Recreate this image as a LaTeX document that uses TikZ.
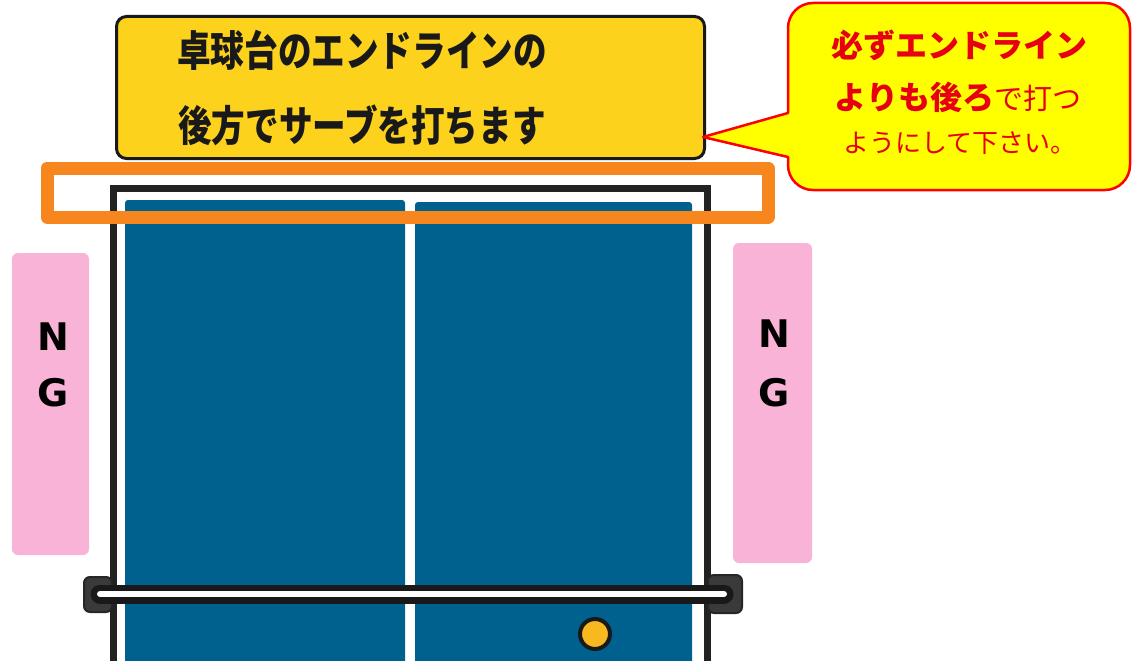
\documentclass[tikz,border=0pt]{standalone}
\usepackage{fontspec}
\newfontfamily\jpfont{Noto Sans CJK JP}
\newfontfamily\ngfont{DejaVu Sans}
\definecolor{tableblue}{HTML}{00608E}
\definecolor{tableline}{HTML}{222222}
\definecolor{zoneorange}{HTML}{F7861E}
\definecolor{titlegold}{HTML}{FCD21D}
\definecolor{ngpink}{HTML}{F9B3D6}
\definecolor{noteyellow}{HTML}{FFFF00}
\definecolor{notered}{HTML}{E60012}
\definecolor{ballyellow}{HTML}{F8B81F}
\definecolor{capgray}{HTML}{3A3A3A}
\tikzset{
  ngbox/.style={fill=ngpink, rounded corners=6pt},
  ngletter/.style={font=\ngfont\bfseries\fontsize{38}{40}\selectfont, text=black, inner sep=0pt},
  half/.style={fill=tableblue, rounded corners=3pt},
  titletext/.style={font=\jpfont\bfseries\fontsize{42}{46}\selectfont, xscale=0.8, text=black!90, inner sep=0pt},
  notetext/.style={font=\jpfont\fontsize{32}{36}\selectfont, text=notered, inner sep=0pt},
  netcap/.style={fill=capgray, draw=black!85, line width=2pt, rounded corners=6pt},
}
\begin{document}
\begin{tikzpicture}[x=1pt, y=-1pt]
\useasboundingbox (0,0) rectangle (1136,661);
\clip (0,0) rectangle (1136,661);
\fill[white] (0,0) rectangle (1136,661);

% foul zones beside the table
\fill[ngbox] (12,253) rectangle (89,555);
\fill[ngbox] (733,243) rectangle (812,563);
\node[ngletter] (nl) at (53,337) {N};
\node[ngletter] (gl) at (53,393) {G};
\node[ngletter] (nr) at (774,334) {N};
\node[ngletter] (gr) at (774,393) {G};

% table top with its two halves and centre line
\draw[tableline, line width=7pt] (113,680) -- (113,188) -- (707,188) -- (707,680);
\fill[half] (125,200) rectangle (405,680);
\fill[half] (415,202) rectangle (692,680);

% net with its posts
\path[netcap] (84,577) rectangle (112,612);
\path[netcap] (708,575) rectangle (742,613);
\fill[gray!60] (95,588) rectangle (104,601);
\fill[gray!60] (716,586) rectangle (728,602);
\draw[black!90, line width=19pt, line cap=round] (100,594) -- (724,594);
\draw[white, line width=6pt, line cap=round] (100,594) -- (724,594);

% ball
\draw[fill=ballyellow, draw=black!90, line width=4pt] (595,634) circle (15);

% serving line zone
\draw[zoneorange, line width=13pt, line join=round] (47,168) rectangle (768,217);

% title box
\node[fill=titlegold, draw=black!90, line width=3pt, rounded corners=10pt,
      minimum width=588pt, minimum height=142pt, anchor=north west, inner sep=0pt]
      (title) at (115,15) {};
\node[titletext] (t1) at (362,50) {卓球台のエンドラインの};
\node[titletext] (t2) at (362,125) {後方でサーブを打ちます};

% speech bubble
\draw[fill=noteyellow, draw=red, line width=2.5pt, line join=round]
  (703,137) -- (788,113) [rounded corners=25pt] -- (788,3) -- (1130,3) -- (1130,190) -- (788,190)
  [sharp corners] -- (788,157) -- cycle;
\node[notetext] (n1) at (959,45) {\bfseries 必ずエンドライン};
\node[notetext] (n2) at (958,97) {{\bfseries よりも後ろ}{\fontsize{29}{34}\selectfont で打つ}};
\node[notetext, font=\jpfont\fontsize{26}{30}\selectfont] (n3) at (960,143) {ようにして下さい。};
\end{tikzpicture}
\end{document}
